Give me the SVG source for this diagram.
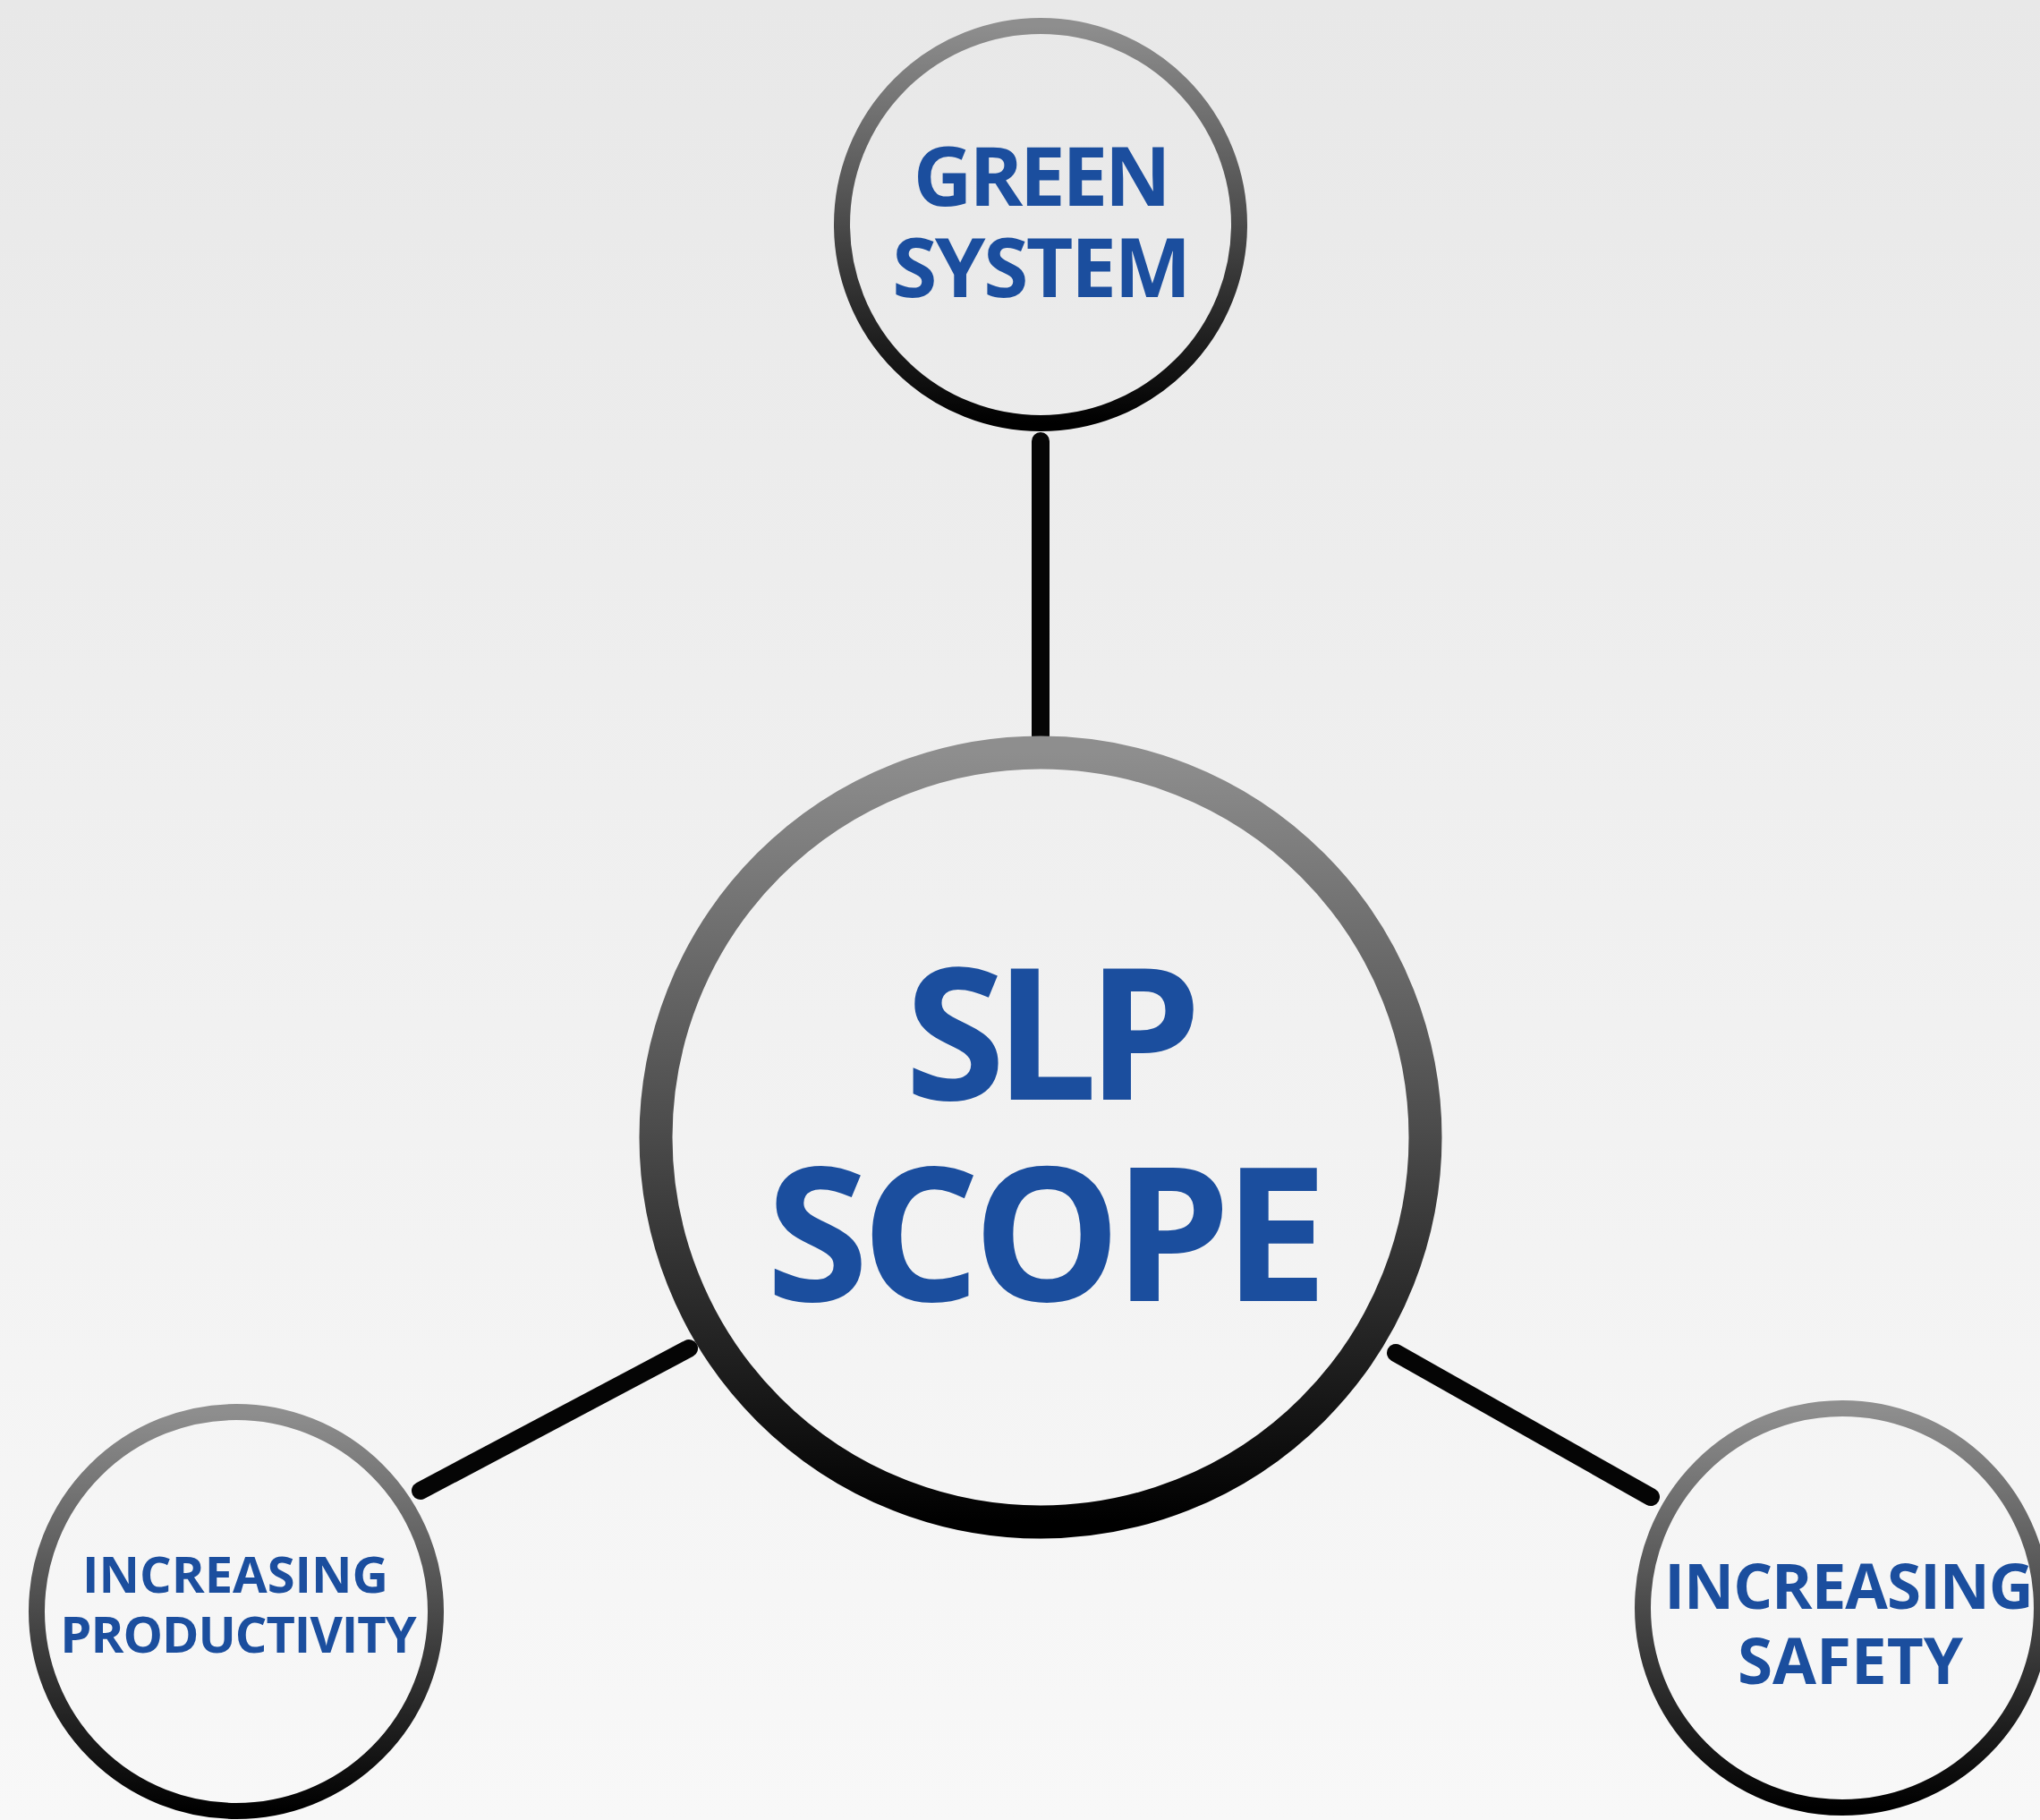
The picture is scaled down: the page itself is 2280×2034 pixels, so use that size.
<svg xmlns="http://www.w3.org/2000/svg" width="2280" height="2034" viewBox="0 0 2280 2034">
  <defs>
    <linearGradient id="bg" x1="0" y1="0" x2="0" y2="2034" gradientUnits="userSpaceOnUse">
      <stop offset="0" stop-color="#e8e8e8"/>
      <stop offset="1" stop-color="#f8f8f8"/>
    </linearGradient>
    <linearGradient id="ring" x1="0" y1="0" x2="0" y2="1">
      <stop offset="0" stop-color="#8e8e8e"/>
      <stop offset="0.5" stop-color="#4a4a4a"/>
      <stop offset="1" stop-color="#000000"/>
    </linearGradient>
  </defs>
  <style>
    .node { fill: url(#bg); stroke: url(#ring); }
    .small { stroke-width: 18; }
    .big { stroke-width: 37; }
    .lbl { font-family: "Open Sans", "Noto Sans", "Liberation Sans", sans-serif; font-weight: 700; fill: #1b4e9e; text-anchor: middle; }
    .conn { stroke: #050505; stroke-width: 20; stroke-linecap: round; fill: none; }
  </style>
  <rect x="0" y="0" width="2280" height="2034" fill="url(#bg)"/>
  <g id="connectors">
    <line class="conn" x1="1163" y1="493" x2="1163" y2="824"/>
    <line class="conn" x1="470" y1="1666" x2="770" y2="1507"/>
    <line class="conn" x1="1560" y1="1512" x2="1845" y2="1673"/>
  </g>
  <g id="node-green-system">
    <circle class="node small" cx="1163" cy="251" r="222"/>
    <text class="lbl" x="1163" y="230" font-size="91" letter-spacing="-3.5">GREEN</text>
    <text class="lbl" x="1163" y="332" font-size="91" letter-spacing="-2.5">SYSTEM</text>
  </g>
  <g id="node-slp-scope">
    <circle class="node big" cx="1163" cy="1271" r="430"/>
    <text class="lbl" x="1171" y="1229" font-size="204" letter-spacing="-12">SLP</text>
    <text class="lbl" x="1166" y="1454" font-size="208" letter-spacing="-8">SCOPE</text>
  </g>
  <g id="node-productivity">
    <circle class="node small" cx="264" cy="1801" r="223"/>
    <text class="lbl" x="263" y="1780" font-size="56">INCREASING</text>
    <text class="lbl" x="266" y="1847" font-size="56" letter-spacing="-1">PRODUCTIVITY</text>
  </g>
  <g id="node-safety">
    <circle class="node small" cx="2059" cy="1797" r="223"/>
    <text class="lbl" x="2066" y="1798" font-size="69" letter-spacing="-1">INCREASING</text>
    <text class="lbl" x="2068" y="1882" font-size="71">SAFETY</text>
  </g>
</svg>
